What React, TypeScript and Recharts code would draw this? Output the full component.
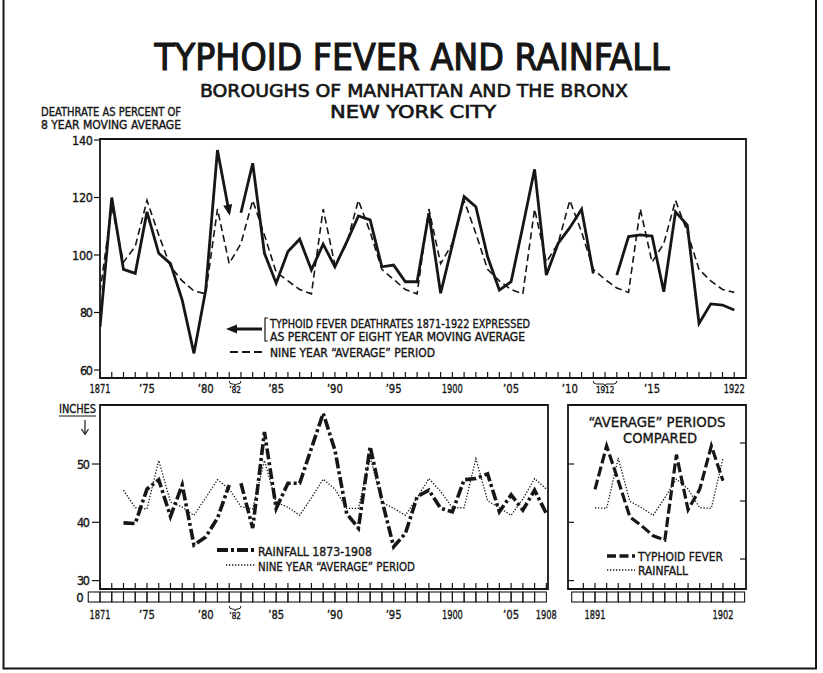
import { Line, LineChart, ReferenceArea, XAxis, YAxis } from "recharts";

const INK = "#161616";
const FONT = "'DejaVu Sans Condensed', 'Liberation Sans Narrow', 'DejaVu Sans', sans-serif";

// Upper panel: one slot per year. 1882 is drawn twice and 1912 three times so every
// nine-year "average" period takes the same width (that is how the original is laid out).
const typhoidYears = [
  1871, 1872, 1873, 1874, 1875, 1876, 1877, 1878, 1879, 1880, 1881, 1882,
  1882, 1883, 1884, 1885, 1886, 1887, 1888, 1889, 1890, 1891, 1892, 1893, 1894, 1895, 1896,
  1897, 1898, 1899, 1900, 1901, 1902, 1903, 1904, 1905, 1906, 1907, 1908, 1909, 1910, 1911, 1912,
  1912,
  1912, 1913, 1914, 1915, 1916, 1917, 1918, 1919, 1920, 1921, 1922,
];
// deathrate as % of 8 year moving average (null = break in the line)
const typhoidRate = [
  75, 120, 95, 93.6, 115, 100.6, 97, 84.3, 65.8, 87.8, 136.5, 114.7,
  114.7, 131.9, 100.6, 90.2, 101.2, 105.5, 94.8, 103.8, 95.9, 104.5, 113.6, 112.2, 95.9, 96.5, 90.7,
  90.7, 114.5, 86.7, 103.5, 120.3, 116.8, 99.4, 87.8, 90.7, 110, 129.8, 93, 104, 109.5, 115.9, 93.6,
  null,
  93, 106.4, 107, 106.6, 87.2, 115, 110.4, 76.2, 83, 82.6, 80.9,
];
const typhoidSegmentStarts = [0, 12, 44];
const typhoidAverage = [
  87, 117, 97.5, 103, 119, 107, 96, 91, 87.5, 86.5,
  116, 97, 104, 119, 107, 94, 91, 88, 86.5,
  116, 96.5, 104, 119, 108, 95, 91.5, 88, 86.5,
  116, 97, 104, 119, 107.5, 95, 91, 88, 86.5,
  116, 97.5, 104, 119, 108, 95, 91.5, 88.5, 87,
  116, 97.5, 104, 119, 108, 95, 91, 88, 87,
];
const typhoidAxisTicks = [60, 80, 100, 120, 140];
const typhoidTickYears = [1871, 1875, 1880, 1885, 1890, 1895, 1900, 1905, 1910, 1915, 1922];
const typhoidTickLabels = ["1871", "’75", "’80", "’85", "’90", "’95", "1900", "’05", "’10", "’15", "1922"];
const repeatedYearLabels: Record<number, string> = { 1882: "’82", 1912: "1912" };

// Lower left panel: rainfall in inches
const rainYears = [
  1871, 1872, 1873, 1874, 1875, 1876, 1877, 1878, 1879, 1880, 1881, 1882,
  1882, 1883, 1884, 1885, 1886, 1887, 1888, 1889, 1890, 1891, 1892, 1893, 1894, 1895, 1896,
  1897, 1898, 1899, 1900, 1901, 1902, 1903, 1904, 1905, 1906, 1907, 1908,
];
const rainfall = [
  null, null, 39.9, 39.8, 45.7, 47.3, 41, 46.4, 36.1, 37.5, 40.7, 46.4,
  46.7, 39, 55.5, 42.4, 46.7, 46.7, 52.7, 58.7, 52.4, 41.5, 39, 53, 43.8, 35.8, 38.1,
  44.4, 45.5, 42.4, 41.8, 47.3, 47.5, 48.3, 41.8, 44.7, 42.1, 45.5, 41.5,
];
const rainSegmentStarts = [0, 12];
const rainAverage = [
  null, null, 45.5, 42.5, 42.3, 50.6, 43.5, 42.6, 41.2, 44.2, 47.3, 45.7,
  42.7, 42.3, 50.6, 43.4, 42.6, 41.2, 44.2, 47.4, 45.7, 42.4, 42.4, 51.2, 43.4, 42.4, 41.2,
  44.2, 47.5, 45.3, 42.5, 42.5, 50.9, 43.7, 42.5, 41.2, 44, 47.5, 45.7,
];
const rainAxisTicks = [30, 40, 50];
const rainTickYears = [1871, 1875, 1880, 1885, 1890, 1895, 1900, 1905, 1908];
const rainTickLabels = ["1871", "’75", "’80", "’85", "’90", "’95", "1900", "’05", "1908"];

// Lower right panel: the two "average" periods side by side
const periodYears = [1891, 1892, 1893, 1894, 1895, 1896, 1897, 1898, 1899, 1900, 1901, 1902];
const periodTyphoid = [104, 119, 107, 94.5, 91.5, 88, 86.5, 116, 97, 104, 119, 107];
const periodRain = [42.5, 42.4, 51, 43.6, 42.5, 41.2, 44.2, 47.4, 45.7, 42.5, 42.4, 51];
const periodRainTicks = [30, 40, 50];
const periodTyphoidTicks = [80, 100, 120];
const periodTickLabels: Record<number, string> = { 1891: "1891", 1902: "1902" };

// geometry
const TOP_DOMAIN_X: [number, number] = [0, 55];
const TOP_DOMAIN_Y: [number, number] = [57.22, 140.35];
const TOP_SLOT_PX = 646 / 55;
const TOP_PX_UNIT = 239 / (TOP_DOMAIN_Y[1] - TOP_DOMAIN_Y[0]);
const RAIN_DOMAIN_X: [number, number] = [0, 38.14];
const RAIN_DOMAIN_Y: [number, number] = [28.56, 60.12];
const RAIN_SLOT_PX = 448 / 38.14;
const PERIOD_DOMAIN_X: [number, number] = [-2.32, 12.98];
const PERIOD_TYPHOID_Y: [number, number] = [69.66, 133.1];
const PERIOD_SLOT_PX = 178 / (12.98 + 2.32);

// text weight: regular glyphs thickened a little with an outline
const TEXT_STYLE = { fontFamily: FONT, fill: INK, stroke: INK, strokeWidth: 0.35 };

const segmentOf = (slot: number, starts: number[]) => starts.filter((s) => s <= slot).length - 1;

const typhoidRows = typhoidYears.map((year, slot) => {
  const row: Record<string, number | null> = { slot, year, avg: typhoidAverage[slot] };
  typhoidSegmentStarts.forEach((_, k) => {
    row[`rate${k}`] = segmentOf(slot, typhoidSegmentStarts) === k ? typhoidRate[slot] : null;
  });
  return row;
});

const rainRows = rainYears.map((year, slot) => {
  const row: Record<string, number | null> = { slot, year, avg: rainAverage[slot] };
  rainSegmentStarts.forEach((_, k) => {
    row[`rain${k}`] = segmentOf(slot, rainSegmentStarts) === k ? rainfall[slot] : null;
  });
  return row;
});

const periodRows = periodYears.map((year, i) => ({ slot: i, year, typhoid: periodTyphoid[i], rain: periodRain[i] }));

const typhoidSlots = typhoidYears.map((_, i) => i);
const rainSlots = rainYears.map((_, i) => i);
const periodSlots = [-2, -1, ...periodYears.map((_, i) => i), periodYears.length];

function Brace({ x0, x1, y, label, labelY, size }: { x0: number; x1: number; y: number; label: string; labelY: number; size: number }) {
  const mid = (x0 + x1) / 2;
  return (
    <g>
      <path
        d={`M${x0} ${y} Q${x0} ${y + 3} ${x0 + 3} ${y + 3} L${mid - 2} ${y + 3} Q${mid} ${y + 3} ${mid} ${y + 5} Q${mid} ${y + 3} ${mid + 2} ${y + 3} L${x1 - 3} ${y + 3} Q${x1} ${y + 3} ${x1} ${y}`}
        fill="none"
        stroke={INK}
        strokeWidth={1}
      />
      <text x={mid} y={labelY} textAnchor="middle" fontSize={size} style={TEXT_STYLE}>
        {label}
      </text>
    </g>
  );
}

function yearTick(years: number[], tickYears: number[], tickLabels: string[], slotPx: number, boxes: boolean) {
  return (props: any) => {
    const { x, y, payload } = props;
    const slot = payload.value as number;
    const year = years[slot];
    const first = years.indexOf(year) === slot;
    const last = years.lastIndexOf(year);
    const li = first ? tickYears.indexOf(year) : -1;
    const labelY = boxes ? y + 30 : y + 15;
    const label = li >= 0 ? tickLabels[li] : null;
    return (
      <g>
        <line x1={x} x2={x} y1={y} y2={y - 6} stroke={INK} strokeWidth={1.2} />
        {boxes && <rect x={x - slotPx} y={y + 3} width={slotPx} height={10} fill="none" stroke={INK} strokeWidth={1.1} />}
        {label && (
          <text x={x} y={labelY} textAnchor="middle" fontSize={13} style={TEXT_STYLE} textLength={label.length > 3 ? 21 : 16} lengthAdjust="spacingAndGlyphs">
            {label}
          </text>
        )}
        {first && last > slot && (
          <Brace x0={x} x1={x + (last - slot) * slotPx} y={boxes ? y + 17 : y + 3} label={repeatedYearLabels[year]} labelY={labelY} size={8} />
        )}
      </g>
    );
  };
}

const typhoidXTick = yearTick(typhoidYears, typhoidTickYears, typhoidTickLabels, TOP_SLOT_PX, false);
const rainXTick = yearTick(rainYears, rainTickYears, rainTickLabels, RAIN_SLOT_PX, true);

function periodXTick(props: any) {
  const { x, y, payload } = props;
  const i = payload.value as number;
  const year = periodYears[i];
  const label = year ? periodTickLabels[year] : undefined;
  return (
    <g>
      {i > -2 && <line x1={x} x2={x} y1={y} y2={y - 6} stroke={INK} strokeWidth={1.2} />}
      {i > -2 && <rect x={x - PERIOD_SLOT_PX} y={y + 3} width={PERIOD_SLOT_PX} height={10} fill="none" stroke={INK} strokeWidth={1.1} />}
      {i === periodYears.length && <rect x={x} y={y + 3} width={10} height={10} fill="none" stroke={INK} strokeWidth={1.1} />}
      {label && (
        <text x={x} y={y + 30} textAnchor="middle" fontSize={13} style={TEXT_STYLE} textLength={21} lengthAdjust="spacingAndGlyphs">
          {label}
        </text>
      )}
    </g>
  );
}

function valueTick(tickLen: number, gap: number) {
  return (props: any) => {
    const { x, y, payload } = props;
    const text = String(payload.value);
    return (
      <g>
        <line x1={x - tickLen} x2={x} y1={y} y2={y} stroke={INK} strokeWidth={1.2} />
        <text x={x - tickLen - gap} y={y + 4.5} textAnchor="end" fontSize={12.5} style={TEXT_STYLE} textLength={text.length * 8 - 3} lengthAdjust="spacing">
          {text}
        </text>
      </g>
    );
  };
}

const typhoidYTick = valueTick(6, 1);
const rainYTick = valueTick(8, 2);

const innerTick = (dir: number) => (props: any) => {
  const { x, y } = props;
  return <line x1={x} x2={x + dir * 6} y1={y} y2={y} stroke={INK} strokeWidth={1.2} />;
};

const arrowDot = (props: any) => {
  const { cx, cy, index } = props;
  const end = typhoidSegmentStarts[1] - 1;
  if (index !== end || cx == null || cy == null) return <g key={`d${index}`} />;
  const prev = typhoidRate[index - 1] as number;
  const cur = typhoidRate[index] as number;
  const dx = TOP_SLOT_PX;
  const dy = (prev - cur) * TOP_PX_UNIT;
  const len = Math.hypot(dx, dy);
  const ux = dx / len;
  const uy = dy / len;
  const tx = cx + ux * 3;
  const ty = cy + uy * 3;
  const bx = tx - ux * 11;
  const by = ty - uy * 11;
  const pts = `${tx},${ty} ${bx - uy * 4.5},${by + ux * 4.5} ${bx + uy * 4.5},${by - ux * 4.5}`;
  return <polygon key={`d${index}`} points={pts} fill={INK} />;
};

function Label({ x, y, w, size, children, anchor = "start", weight = 0.35 }: { x: number; y: number; w: number; size: number; children: string; anchor?: "start" | "middle"; weight?: number }) {
  return (
    <text x={x} y={y} fontSize={size} textAnchor={anchor} textLength={w} lengthAdjust="spacingAndGlyphs" style={{ ...TEXT_STYLE, strokeWidth: weight }}>
      {children}
    </text>
  );
}

function Overlay() {
  return (
    <svg width={823} height={673} style={{ position: "absolute", left: 0, top: 0, pointerEvents: "none" }}>
      <path d="M3.5 0 V668.5 H816 V0" fill="none" stroke={INK} strokeWidth={2} />

      <Label x={412} y={70} w={515} size={37} anchor="middle" weight={1.1}>TYPHOID FEVER AND RAINFALL</Label>
      <Label x={414} y={96.5} w={428} size={18} anchor="middle" weight={0.6}>BOROUGHS OF MANHATTAN AND THE BRONX</Label>
      <Label x={413} y={118} w={166} size={18} anchor="middle" weight={0.6}>NEW YORK CITY</Label>
      <Label x={41} y={116} w={140} size={11.5}>DEATHRATE AS PERCENT OF</Label>
      <Label x={41} y={129} w={140} size={11.5}>8 YEAR MOVING AVERAGE</Label>

      {/* upper legend */}
      <line x1={234} x2={262} y1={329} y2={329} stroke={INK} strokeWidth={3} />
      <polygon points="226,329 237,324.5 237,333.5" fill={INK} />
      <path d="M268 318 H265 V341 H268" fill="none" stroke={INK} strokeWidth={1.2} />
      <Label x={270} y={327.5} w={260} size={11.5}>TYPHOID FEVER DEATHRATES 1871-1922 EXPRESSED</Label>
      <Label x={270} y={341} w={255} size={11.5}>AS PERCENT OF EIGHT YEAR MOVING AVERAGE</Label>
      <line x1={230} x2={263} y1={352} y2={352} stroke={INK} strokeWidth={2} strokeDasharray="8 4" />
      <Label x={270} y={357} w={165} size={11.5}>NINE YEAR “AVERAGE” PERIOD</Label>

      {/* lower left */}
      <Label x={59} y={413} w={37} size={12}>INCHES</Label>
      <line x1={59} x2={96} y1={416} y2={416} stroke={INK} strokeWidth={1.2} />
      <line x1={85} x2={85} y1={420} y2={434} stroke={INK} strokeWidth={1.2} />
      <path d="M81.5 429 L85 434.5 L88.5 429" fill="none" stroke={INK} strokeWidth={1.2} />
      <text x={80} y={602} textAnchor="middle" fontSize={13} style={TEXT_STYLE}>0</text>

      <line x1={217} x2={255} y1={550} y2={550} stroke={INK} strokeWidth={4} strokeDasharray="11 3 3 3" />
      <Label x={258} y={556} w={114} size={13}>RAINFALL 1873-1908</Label>
      <line x1={226} x2={255} y1={565} y2={565} stroke={INK} strokeWidth={1.3} strokeDasharray="1.3 1.7" />
      <Label x={258} y={571} w={157} size={13}>NINE YEAR “AVERAGE” PERIOD</Label>

      {/* lower right */}
      <Label x={657} y={427} w={137} size={14} anchor="middle">“AVERAGE” PERIODS</Label>
      <Label x={660} y={443} w={74} size={14} anchor="middle">COMPARED</Label>
      <line x1={607} x2={635} y1={556} y2={556} stroke={INK} strokeWidth={3.5} strokeDasharray="9 3.5" />
      <Label x={638} y={561} w={85} size={13}>TYPHOID FEVER</Label>
      <line x1={607} x2={635} y1={570} y2={570} stroke={INK} strokeWidth={1.3} strokeDasharray="1.3 1.7" />
      <Label x={638} y={575} w={50} size={13}>RAINFALL</Label>
    </svg>
  );
}

export default function App() {
  return (
    <div style={{ position: "absolute", left: 0, top: 0, width: 823, height: 673, background: "#fff", overflow: "hidden" }}>
      <div style={{ position: "absolute", left: 0, top: 100 }}>
        <LineChart width={790} height={310} data={typhoidRows} margin={{ top: 39, right: 44, bottom: 2, left: 60 }}>
          <XAxis dataKey="slot" type="number" domain={TOP_DOMAIN_X} allowDataOverflow ticks={typhoidSlots} interval={0} tickSize={0} tickMargin={0} tickLine={false} axisLine={false} height={30} tick={typhoidXTick} />
          <YAxis type="number" domain={TOP_DOMAIN_Y} allowDataOverflow ticks={typhoidAxisTicks} interval={0} tickSize={0} tickMargin={0} tickLine={false} axisLine={false} width={40} tick={typhoidYTick} />
          <ReferenceArea x1={TOP_DOMAIN_X[0]} x2={TOP_DOMAIN_X[1]} y1={TOP_DOMAIN_Y[0]} y2={TOP_DOMAIN_Y[1]} fill="none" stroke={INK} strokeWidth={1.8} ifOverflow="visible" />
          <Line type="linear" dataKey="avg" stroke={INK} strokeWidth={1.6} strokeDasharray="7 4" dot={false} activeDot={false} isAnimationActive={false} />
          <Line type="linear" dataKey="rate0" stroke={INK} strokeWidth={2.8} dot={arrowDot} activeDot={false} connectNulls={false} isAnimationActive={false} />
          <Line type="linear" dataKey="rate1" stroke={INK} strokeWidth={2.8} dot={false} activeDot={false} connectNulls={false} isAnimationActive={false} />
          <Line type="linear" dataKey="rate2" stroke={INK} strokeWidth={2.8} dot={false} activeDot={false} connectNulls={false} isAnimationActive={false} />
        </LineChart>
      </div>

      <div style={{ position: "absolute", left: 0, top: 380 }}>
        <LineChart width={600} height={250} data={rainRows} margin={{ top: 25, right: 52, bottom: 11, left: 60 }}>
          <XAxis dataKey="slot" type="number" domain={RAIN_DOMAIN_X} allowDataOverflow ticks={rainSlots} interval={0} tickSize={0} tickMargin={0} tickLine={false} axisLine={false} height={30} tick={rainXTick} />
          <YAxis type="number" domain={RAIN_DOMAIN_Y} allowDataOverflow ticks={rainAxisTicks} interval={0} tickSize={0} tickMargin={0} tickLine={false} axisLine={false} width={40} tick={rainYTick} />
          <ReferenceArea x1={RAIN_DOMAIN_X[0]} x2={RAIN_DOMAIN_X[1]} y1={RAIN_DOMAIN_Y[0]} y2={RAIN_DOMAIN_Y[1]} fill="none" stroke={INK} strokeWidth={1.8} ifOverflow="visible" />
          <Line type="linear" dataKey="avg" stroke={INK} strokeWidth={1.3} strokeDasharray="1.3 1.7" dot={false} activeDot={false} isAnimationActive={false} />
          <Line type="linear" dataKey="rain0" stroke={INK} strokeWidth={3.6} strokeDasharray="11 3 3 3" dot={false} activeDot={false} connectNulls={false} isAnimationActive={false} />
          <Line type="linear" dataKey="rain1" stroke={INK} strokeWidth={3.6} strokeDasharray="11 3 3 3" dot={false} activeDot={false} connectNulls={false} isAnimationActive={false} />
        </LineChart>
      </div>

      <div style={{ position: "absolute", left: 500, top: 380 }}>
        <LineChart width={290} height={250} data={periodRows} margin={{ top: 25, right: 43, bottom: 11, left: 67 }}>
          <XAxis dataKey="slot" type="number" domain={PERIOD_DOMAIN_X} allowDataOverflow ticks={periodSlots} interval={0} tickSize={0} tickMargin={0} tickLine={false} axisLine={false} height={30} tick={periodXTick} />
          <YAxis yAxisId="rain" orientation="left" type="number" domain={RAIN_DOMAIN_Y} allowDataOverflow ticks={periodRainTicks} interval={0} tickSize={0} tickMargin={0} tickLine={false} axisLine={false} width={1} tick={innerTick(1)} />
          <YAxis yAxisId="typhoid" orientation="right" type="number" domain={PERIOD_TYPHOID_Y} allowDataOverflow ticks={periodTyphoidTicks} interval={0} tickSize={0} tickMargin={0} tickLine={false} axisLine={false} width={1} tick={innerTick(-1)} />
          <ReferenceArea yAxisId="rain" x1={PERIOD_DOMAIN_X[0]} x2={PERIOD_DOMAIN_X[1]} y1={RAIN_DOMAIN_Y[0]} y2={RAIN_DOMAIN_Y[1]} fill="none" stroke={INK} strokeWidth={1.8} ifOverflow="visible" />
          <Line yAxisId="rain" type="linear" dataKey="rain" stroke={INK} strokeWidth={1.3} strokeDasharray="1.3 1.7" dot={false} activeDot={false} isAnimationActive={false} />
          <Line yAxisId="typhoid" type="linear" dataKey="typhoid" stroke={INK} strokeWidth={3.2} strokeDasharray="10 3.5" dot={false} activeDot={false} isAnimationActive={false} />
        </LineChart>
      </div>

      <Overlay />
    </div>
  );
}
